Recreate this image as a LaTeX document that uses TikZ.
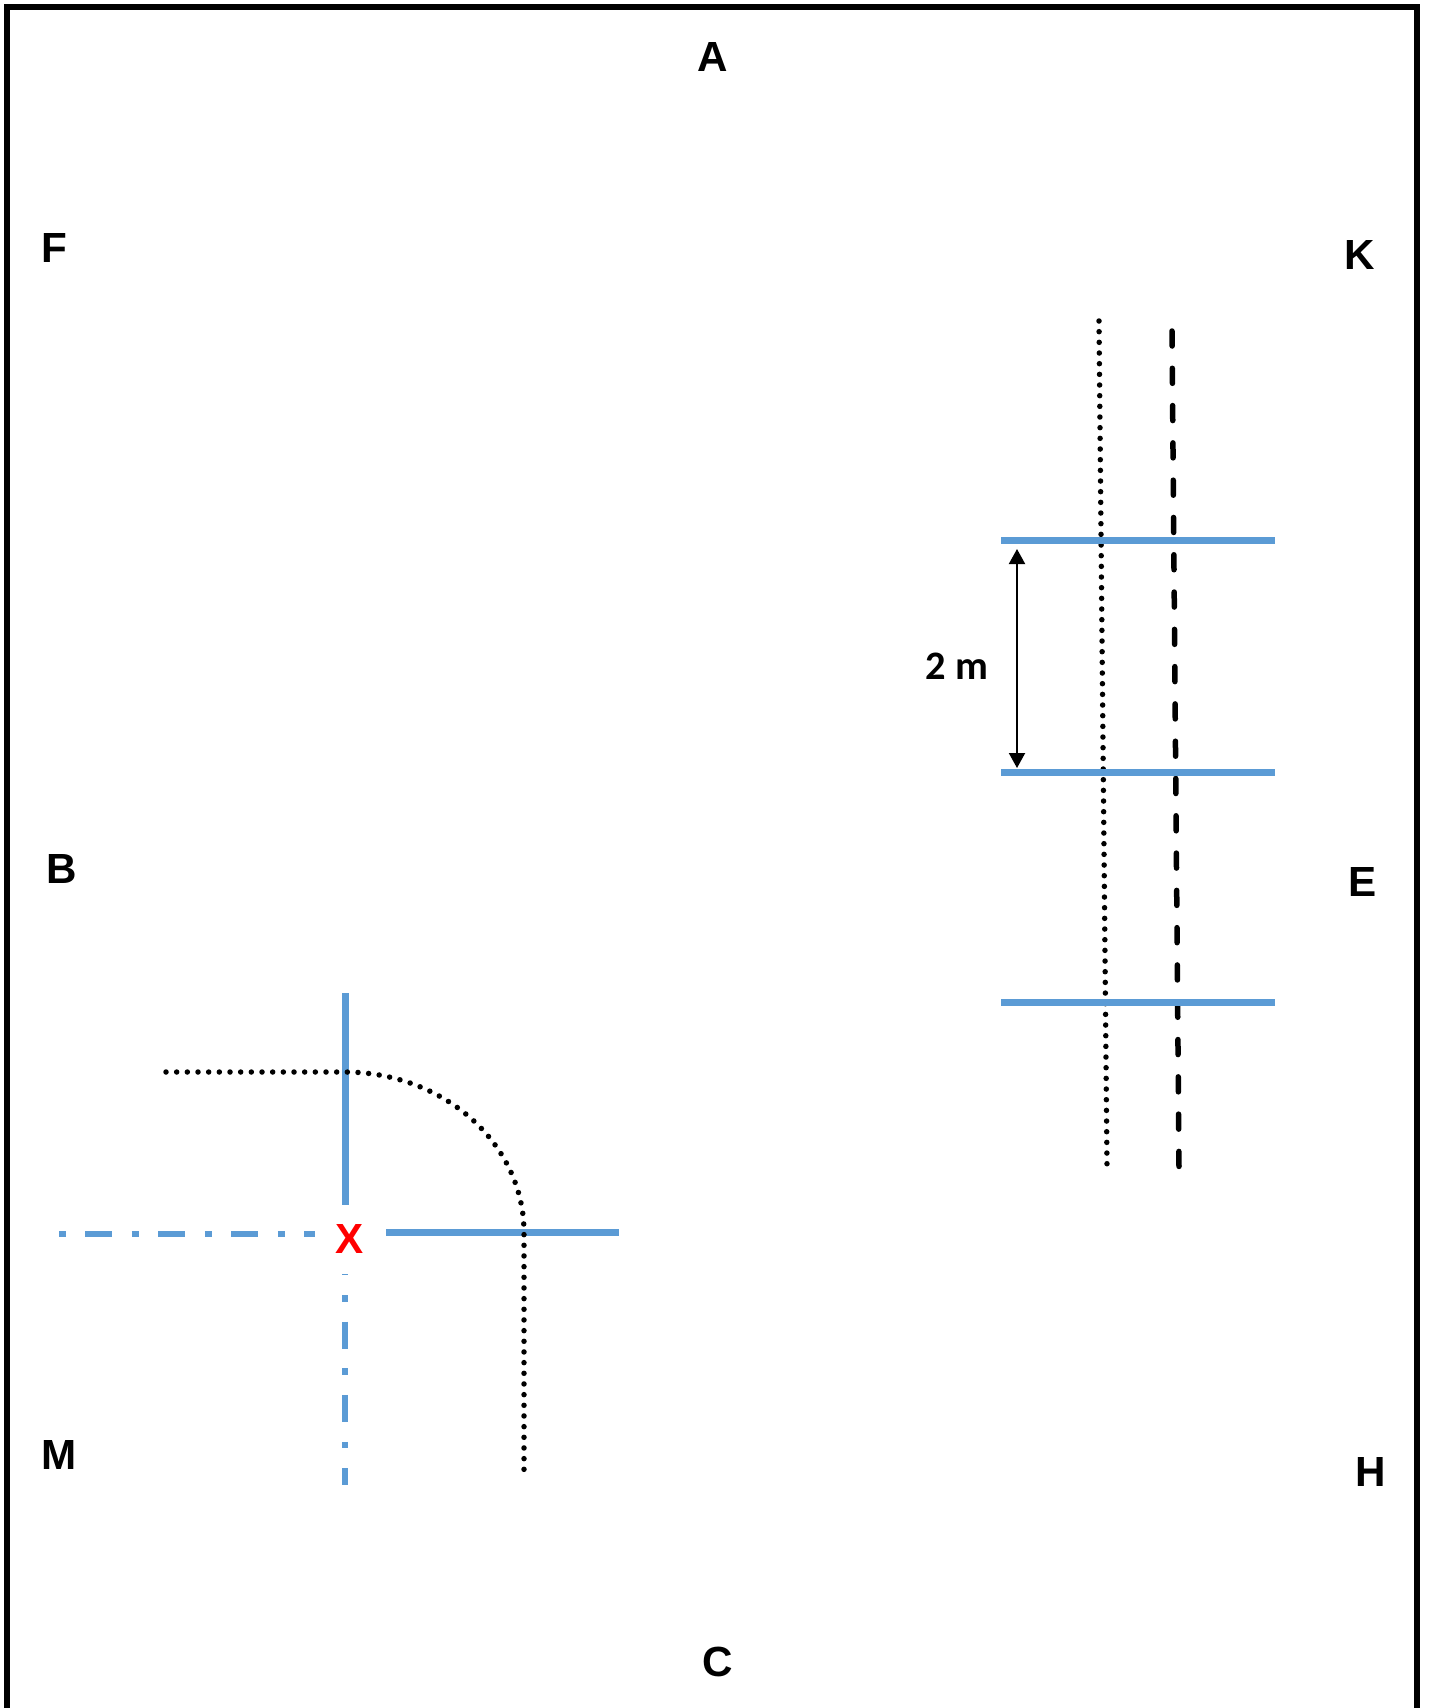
\documentclass[tikz,border=0pt]{standalone}
\usepackage{fontspec}
\setmainfont{Liberation Sans}
\newfontfamily\calibrifont{Carlito}
\usetikzlibrary{arrows.meta}
\definecolor{planblue}{RGB}{91,155,213}
\definecolor{markred}{RGB}{255,0,0}

\begin{document}
\begin{tikzpicture}[x=0.02cm, y=-0.02cm, >={Triangle[length=0.3cm,width=0.32cm]},
    lbl/.style={font=\fontsize{24}{28}\selectfont\bfseries, inner sep=0pt},
    bar/.style={planblue, line width=0.14cm},
    axish/.style={planblue, line width=0.12cm, dash pattern=on 0.14cm off 0.39cm on 0.54cm off 0.39cm},
    axisv/.style={planblue, line width=0.13cm, dash pattern=on 0.54cm off 0.4cm on 0.13cm off 0.4cm, dash phase=0.52cm},
    pts/.style={line width=0.11cm, line cap=round, dash pattern=on 0pt off 0.2134cm},
    dashline/.style={line width=0.11cm, line cap=round, dash pattern=on 0.3cm off 0.446cm}]
    \useasboundingbox (0,0) rectangle (1428,1708);
    \draw[line width=0.12cm] (7,1708) -- (7,7) -- (1417,7) -- (1417,1708);
    \node[lbl] (lblA) at (713,57) {A};
    \node[lbl] (lblF) at (54,248) {F};
    \node[lbl] (lblK) at (1360,255) {K};
    \node[lbl] (lblB) at (62,869) {B};
    \node[lbl] (lblE) at (1363,882) {E};
    \node[lbl] (lblM) at (59,1455) {M};
    \node[lbl] (lblH) at (1371,1472) {H};
    \node[lbl] (lblC) at (718,1662) {C};
    \draw[pts] (1099,321) -- (1107,1165);
    \draw[dashline] (1172,331) -- (1179,1167);
    \draw[bar] (1001,540) -- (1275,540);
    \draw[bar] (1001,772) -- (1275,772);
    \draw[bar] (1001,1002) -- (1275,1002);
    \coordinate (dimtop) at (1017,549);
    \coordinate (dimbot) at (1017,768);
    \draw[<->, line width=0.04cm] (dimtop) -- (dimbot);
    \node[font=\calibrifont\fontsize{23}{28}\selectfont\bfseries, inner sep=0pt] (dist) at (957,666) {2 m};
    \draw[bar] (345,993) -- (345,1205);
    \draw[bar] (386,1232) -- (619,1232);
    \draw[axish] (59,1234) -- (315,1234);
    \draw[axisv] (345,1274) -- (345,1485);
    \draw[pts] (166,1072) -- (345,1072)
        -- plot[domain=-90:0,samples=40,variable=\t] ({345+179*cos(\t)},{1232+160*sin(\t)})
        -- (524,1474);
    \node[lbl, markred] (cross) at (350,1239) {X};
\end{tikzpicture}
\end{document}
